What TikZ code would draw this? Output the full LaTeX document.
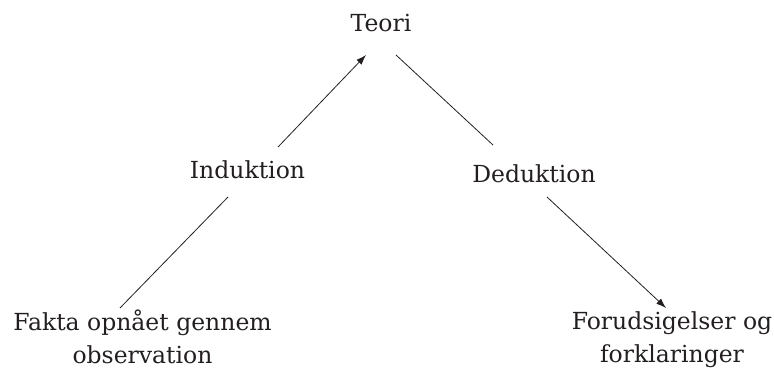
\documentclass[tikz,border=0pt]{standalone}
\usepackage{fontspec}
\setmainfont{DejaVu Serif}
\usetikzlibrary{arrows.meta}
\definecolor{inkGray}{RGB}{35,31,32}

\begin{document}
\begin{tikzpicture}[x=1pt,y=1pt,
  every node/.style={font=\fontsize{23.5}{33}\selectfont,text=inkGray,inner sep=0pt},
  link/.style={draw=inkGray,line width=0.8pt},
  arr/.style={link,-{Latex[length=10pt,width=7pt]}}]
\useasboundingbox (0,0) rectangle (774,372);
\node[anchor=base] (teori) at (381,340) {Teori};
\node[anchor=base] (induk) at (247.5,193) {Induktion};
\node[anchor=base] (deduk) at (534,189) {Deduktion};
\node[anchor=base,align=center] (fakta) at (142.5,8) {Fakta opnået gennem\\observation};
\node[anchor=base,align=center] (forud) at (672,9) {Forudsigelser og\\forklaringer};
\draw[link] ([xshift=-22.5pt,yshift=56pt]fakta.base) -- ([xshift=-19.5pt,yshift=-18pt]induk.base);
\draw[arr] ([xshift=30.5pt,yshift=32pt]induk.base) -- ([xshift=-15pt,yshift=-23pt]teori.base);
\draw[link] ([xshift=15pt,yshift=-23pt]teori.base) -- ([xshift=-41pt,yshift=38pt]deduk.base);
\draw[arr] ([xshift=13pt,yshift=-14pt]deduk.base) -- ([xshift=-6pt,yshift=55pt]forud.base);
\end{tikzpicture}
\end{document}
